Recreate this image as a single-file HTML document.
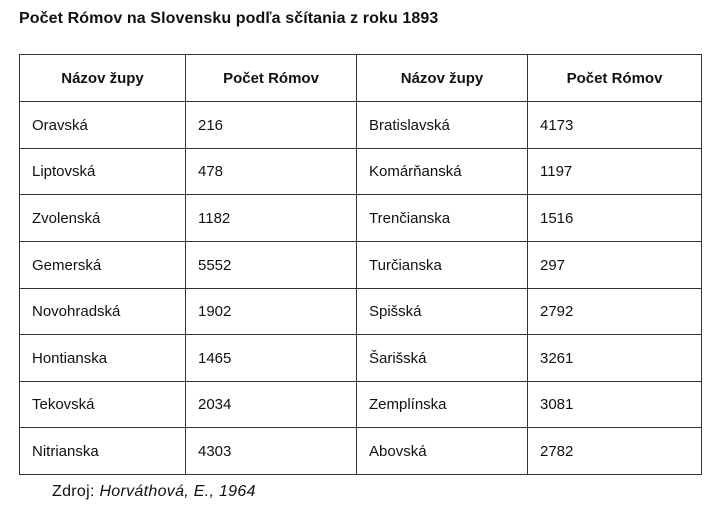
<!DOCTYPE html>
<html><head><meta charset="utf-8"><style>
body{margin:0;width:718px;height:512px;background:#fff;position:relative;font-family:"Liberation Sans",sans-serif;color:#111;overflow:hidden}
.t{position:absolute;left:19px;top:10px;font-weight:bold;font-size:16px;letter-spacing:0.1px}
table{position:absolute;left:19px;top:54px;border-collapse:collapse;table-layout:fixed;width:682px}
td,th{border:1.5px solid #333;font-size:15px;padding:0 0 0 12px;text-align:left;height:45px;box-sizing:border-box}
th{text-align:center;padding:0;font-weight:bold;height:47px}
.z{position:absolute;left:52px;top:483px;font-size:16px;letter-spacing:0.3px}
</style></head><body>
<div class="t">Počet Rómov na Slovensku podľa sčítania z roku 1893</div>
<table>
<colgroup><col style="width:166px"><col style="width:171px"><col style="width:171px"><col style="width:174px"></colgroup>
<tr><th>Názov župy</th><th>Počet Rómov</th><th>Názov župy</th><th>Počet Rómov</th></tr>
<tr style="height:47px"><td>Oravská</td><td>216</td><td>Bratislavská</td><td>4173</td></tr>
<tr style="height:46px"><td>Liptovská</td><td>478</td><td>Komárňanská</td><td>1197</td></tr>
<tr style="height:47px"><td>Zvolenská</td><td>1182</td><td>Trenčianska</td><td>1516</td></tr>
<tr style="height:47px"><td>Gemerská</td><td>5552</td><td>Turčianska</td><td>297</td></tr>
<tr style="height:46px"><td>Novohradská</td><td>1902</td><td>Spišská</td><td>2792</td></tr>
<tr style="height:47px"><td>Hontianska</td><td>1465</td><td>Šarišská</td><td>3261</td></tr>
<tr style="height:46px"><td>Tekovská</td><td>2034</td><td>Zemplínska</td><td>3081</td></tr>
<tr style="height:47px"><td>Nitrianska</td><td>4303</td><td>Abovská</td><td>2782</td></tr>
</table>
<div class="z">Zdroj: <i>Horváthová, E., 1964</i></div>
</body></html>
